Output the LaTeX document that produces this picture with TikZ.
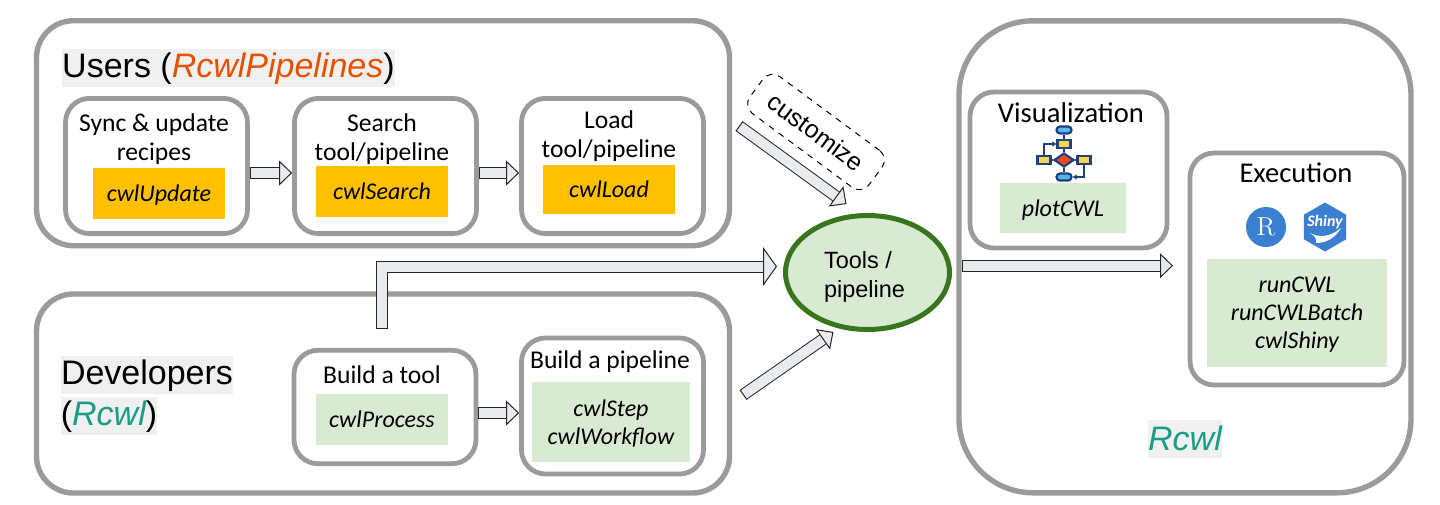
\documentclass[tikz,border=0pt]{standalone}
\usepackage{fontspec}
\setmainfont{Carlito}
\newfontfamily\arialfont{Liberation Sans}
\usepackage{xcolor}
\usetikzlibrary{arrows.meta, positioning, shapes.geometric}

\definecolor{panelgray}{HTML}{9B9B9B}
\definecolor{arrowfill}{HTML}{E9ECEE}
\definecolor{cmdorange}{HTML}{FFC000}
\definecolor{cmdgreen}{HTML}{D9EAD3}
\definecolor{toolsline}{HTML}{38761D}
\definecolor{titlegray}{HTML}{F0F0F0}
\definecolor{pipeorange}{HTML}{E65100}
\definecolor{rcwlteal}{HTML}{1A9C86}
\definecolor{iconnavy}{HTML}{1F3F7F}
\definecolor{iconyellow}{HTML}{FFD54F}
\definecolor{iconred}{HTML}{E8481C}
\definecolor{iconblue}{HTML}{5AB4E8}
\definecolor{logoblue}{HTML}{3A7FD0}

\tikzset{
  panel/.style={draw=panelgray, line width=2.7pt, rounded corners=18.5pt, minimum width=#1},
  inner/.style={draw=panelgray, line width=2.4pt, rounded corners=12pt, minimum width=91pt},
  cmdbox/.style={fill=#1, font=\fontsize{12}{14}\selectfont\itshape, align=center, inner sep=0pt, text depth=0pt},
  boxtitle/.style={font=\fontsize{12.8}{14.5}\selectfont, align=center, inner sep=0pt},
  headline/.style={fill=titlegray, font=\arialfont\fontsize{17}{19}\selectfont, inner sep=0pt, text depth=2.6pt},
  blockarrow/.style={draw=black!85, line width=.5pt, double=arrowfill, double distance=#1},
  smallarrow/.style={blockarrow=5pt, {Bar[width=6pt,line width=.5pt]}-{Triangle[open,fill=arrowfill,length=6.5pt,width=12.5pt,line width=.5pt]}},
  bigarrow/.style={blockarrow=5pt, {Bar[width=6pt,line width=.5pt]}-{Triangle[open,fill=arrowfill,length=7pt,width=19.5pt,line width=.5pt]}},
  iconbox/.style={draw=iconnavy, line width=1.1pt, fill=iconyellow, minimum width=6.5pt, minimum height=4pt, inner sep=0pt},
  iconpill/.style={draw=iconnavy, line width=1.1pt, fill=iconblue, minimum width=7.5pt, minimum height=3.5pt, inner sep=0pt, rounded corners=1.7pt},
  iconline/.style={draw=iconnavy, line width=1.1pt}
}

\begin{document}
\begin{tikzpicture}[x=.5pt, y=-.5pt]
    \useasboundingbox (0,0) rectangle (1440,504);

    % outer panels
    \node[panel=346.5pt, minimum height=112.5pt] (users) at (383,133.2) {};
    \node[panel=346.5pt, minimum height=99.5pt] (developers) at (383,393.5) {};
    \node[panel=226pt, minimum height=236pt, rounded corners=37pt] (rcwl) at (1185,256.8) {};

    % users row
    \node[inner, minimum height=67.6pt] (sync) at (156.5,166) {};
    \node[inner, minimum height=67.6pt] (search) at (385.5,166) {};
    \node[inner, minimum height=67.6pt] (load) at (612.5,166) {};
    \node[boxtitle] (synctitle) at (154,139) {Sync \& update\\recipes};
    \node[boxtitle] (searchtitle) at (382,139) {Search\\tool/pipeline};
    \node[boxtitle] (loadtitle) at (609,136) {Load\\tool/pipeline};
    \node[cmdbox=cmdorange, minimum width=66pt, minimum height=25.5pt] (cwlupdate) at (159,193.5) {cwlUpdate};
    \node[cmdbox=cmdorange, minimum width=66pt, minimum height=25.5pt] (cwlsearch) at (382,191.5) {cwlSearch};
    \node[cmdbox=cmdorange, minimum width=66pt, minimum height=24.5pt] (cwlload) at (609,189.5) {cwlLoad};

    % developers row
    \node[inner, minimum height=56.7pt] (buildtool) at (385,407) {};
    \node[inner, minimum height=68pt] (buildpipe) at (612.5,406) {};
    \node[boxtitle] (tooltitle) at (382,375) {Build a tool};
    \node[boxtitle] (pipetitle) at (610,362) {Build a pipeline};
    \node[cmdbox=cmdgreen, minimum width=66pt, minimum height=25.5pt] (cwlprocess) at (382,419.5) {cwlProcess};
    \node[cmdbox=cmdgreen, minimum width=79pt, minimum height=40pt, text depth=-1.5pt] (cwlstep) at (611,422) {cwlStep\\cwlWorkflow};

    % headlines
    \node[headline, minimum width=166.5pt, minimum height=19pt] (usershead) at (228.5,68) {Users ({\color{pipeorange}\itshape RcwlPipelines})};
    \node[headline, minimum width=86pt, minimum height=19pt] (devhead) at (147,375) {Developers};
    \node[headline, minimum width=48pt, minimum height=19pt] (devname) at (109,416) {({\color{rcwlteal}\itshape Rcwl})};
    \node[headline, minimum width=37pt, minimum height=19pt, text depth=0pt] (rcwlname) at (1185,438.5) {\color{rcwlteal}\itshape Rcwl};

    % visualization and execution
    \node[inner, minimum width=98.5pt, minimum height=78pt] (visual) at (1068.5,170) {};
    \node[inner, minimum width=107pt, minimum height=116pt] (execution) at (1297,269) {};
    \node[boxtitle, font=\fontsize{14.3}{15}\selectfont] (visualtitle) at (1071,113) {Visualization};
    \node[boxtitle, font=\fontsize{14.3}{15}\selectfont] (exectitle) at (1296,173) {Execution};
    \node[cmdbox=cmdgreen, minimum width=63pt, minimum height=25pt] (plotcwl) at (1063,208) {plotCWL};
    \node[cmdbox=cmdgreen, minimum width=90pt, minimum height=54pt] (runcwl) at (1297,313) {runCWL\\runCWLBatch\\cwlShiny};

    % flow chart icon
    \node[iconpill] (icontop) at (1064,130) {};
    \node[iconbox] (iconupper) at (1064,144) {};
    \node[diamond, aspect=1.5, draw=iconnavy, line width=1.1pt, fill=iconred, inner sep=0pt, minimum width=10pt, minimum height=7pt] (icondec) at (1064,160) {};
    \node[iconbox] (iconleft) at (1044,160) {};
    \node[iconbox] (iconright) at (1084,160) {};
    \node[iconpill] (iconbottom) at (1064,177) {};
    \draw[iconline] (icontop) -- (iconupper);
    \draw[iconline] (iconupper) -- (icondec);
    \draw[iconline] (icondec) -- (iconbottom);
    \draw[iconline] (iconleft) -- (icondec) -- (iconright);
    \draw[iconline, -{Latex[length=2pt,width=3pt]}] (iconleft.north) |- (iconupper.west);
    \draw[iconline, -{Latex[length=2pt,width=3pt]}] (iconright.south) |- (iconbottom.east);

    % logos
    \node[circle, fill=logoblue, minimum size=20pt, inner sep=0pt, text=white, font=\fontfamily{lmr}\fontsize{13}{13}\selectfont] (rlogo) at (1266,227) {R};
    \node[regular polygon, regular polygon sides=6, rotate=30, fill=logoblue, minimum size=24.5pt, inner sep=0pt] (shinylogo) at (1325,227) {};
    \node[text=white, inner sep=0pt, font=\fontsize{8}{8}\selectfont\bfseries\itshape] (shinytext) at (1325,222) {Shiny};
    \fill[white] (1310,233) .. controls (1320,238) and (1330,237) .. (1341,228) .. controls (1334,240) and (1324,243) .. (1316,243) .. controls (1317,239) and (1315,236) .. (1310,233);

    % tools
    \node[ellipse, draw=toolsline, line width=2.5pt, fill=cmdgreen, minimum width=82pt, minimum height=57pt, inner sep=0pt] (tools) at (867.5,272.5) {};
    \node[inner sep=0pt, align=left, font=\arialfont\fontsize{11.75}{14.5}\selectfont] (toolstext) at (864.5,277) {Tools /\\pipeline};

    \node[draw, dashed, rotate=-36.5, rounded corners=6pt, line width=.5pt, minimum width=74pt, minimum height=23pt, inner sep=0pt, font=\arialfont\fontsize{12.5}{13}\selectfont] (customize) at (816,132) {customize};

    % connectors
    \coordinate (customstart) at (739,126);
    \coordinate (devstart) at (382,329);
    \coordinate (loweststart) at (743,395);
    \coordinate (execstart) at (962,265.7);
    \coordinate (execend) at (1173,265.7);
    \draw[smallarrow] ([yshift=-3.5pt]sync.east) -- ([yshift=-3.5pt]search.west);
    \draw[smallarrow] ([yshift=-3.5pt]search.east) -- ([yshift=-3.5pt]load.west);
    \draw[smallarrow] ([yshift=-3pt]buildtool.east) -- ([yshift=-3.5pt]buildpipe.west);
    \draw[smallarrow] (customstart) -- ([xshift=-10.5pt,yshift=4.5pt]tools.north);
    \draw[smallarrow] (loweststart) -- ([xshift=-17pt]tools.south);
    \draw[bigarrow] (devstart) |- ([xshift=-3pt,yshift=3pt]tools.west);
    \draw[smallarrow] (execstart) -- (execend);
\end{tikzpicture}
\end{document}
